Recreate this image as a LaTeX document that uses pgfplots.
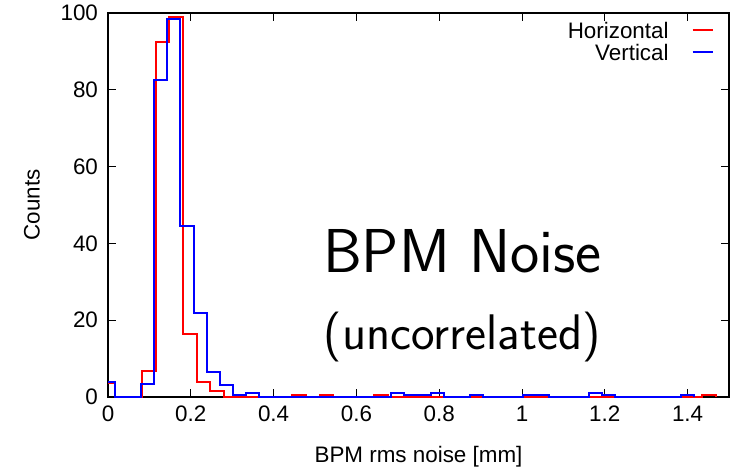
\documentclass[border=0pt]{standalone}
\usepackage{fontspec}
\setmainfont{Liberation Sans}
\usepackage{pgfplots}
\pgfplotsset{compat=1.18}
\usetikzlibrary{calc}
\begin{document}
\begin{tikzpicture}
\begin{axis}[
  scale only axis, width=310.5pt, height=192pt,
  xmin=0, xmax=1.5, ymin=0, ymax=100,
  xtick={0,0.2,0.4,0.6,0.8,1,1.2,1.4},
  ytick={0,20,40,60,80,100},
  /pgf/number format/assume math mode=true,
  tick label style={font=\fontsize{11.2pt}{13pt}\selectfont},
  yticklabel style={xshift=-1.5pt},
  xticklabel style={yshift=-1pt},
  label style={font=\fontsize{11.2pt}{13pt}\selectfont},
  major tick length=4pt,
  tick style={black, line width=0.5pt},
  axis line style={line width=0.6pt},
  clip=false,
  xlabel={BPM rms noise [mm]}, ylabel={Counts},
  xlabel style={at={(axis description cs:0.5,-0.155)}, anchor=center},
  ylabel style={at={(axis description cs:-0.1224,0.5)}, anchor=center},
  legend style={at={(axis description cs:1,1)}, anchor=north east, xshift=-4.5pt, yshift=-1pt,
    draw=none, fill=none, font=\fontsize{11.2pt}{13pt}\selectfont,
    nodes={inner sep=1.5pt, text height=8pt, text depth=0pt}},
  legend cell align=right,
  legend plot pos=right,
  legend image code/.code={\path (0pt,0pt); \draw[#1] (10pt,0pt) -- (20pt,0pt);},
]
\addplot[red, line width=1pt, const plot] coordinates {
(0,3.7) (0.0165,0) (0.0825,6.7) (0.1155,92.5) (0.1485,99) (0.1815,16.5) (0.2145,4) (0.2475,1.5) (0.2805,0) (0.4455,0.5) (0.4785,0) (0.5115,0.5) (0.5445,0) (0.6435,0.5) (0.6765,0) (1.4355,0.5) (1.4685,0)
};
\addlegendentry{Horizontal}
\addplot[blue, line width=1pt, const plot] coordinates {
(0,4) (0.0159,0) (0.0795,3.5) (0.1113,82.5) (0.1431,98.5) (0.1749,44.5) (0.2067,22) (0.2385,6.5) (0.2703,3) (0.3021,0.5) (0.3339,1) (0.3657,0) (0.6837,1) (0.7155,0.5) (0.7791,1) (0.8109,0) (0.8745,0.5) (0.9063,0) (1.0017,0.5) (1.0653,0) (1.1607,1) (1.1925,0.5) (1.2243,0) (1.3833,0.5) (1.4151,0)
};
\addlegendentry{Vertical}
\node[font=\sffamily\fontsize{31pt}{37pt}\selectfont, anchor=base] at (axis cs:0.856,32.5) {BPM Noise};
\node[font=\sffamily\fontsize{25pt}{30pt}\selectfont, anchor=base] at (axis cs:0.856,12.5) {(uncorrelated)};
\end{axis}
\pgfresetboundingbox
\path ($(current axis.south west)+(-54pt,-37.5pt)$) rectangle ($(current axis.north east)+(4pt,6.5pt)$);
\end{tikzpicture}
\end{document}
